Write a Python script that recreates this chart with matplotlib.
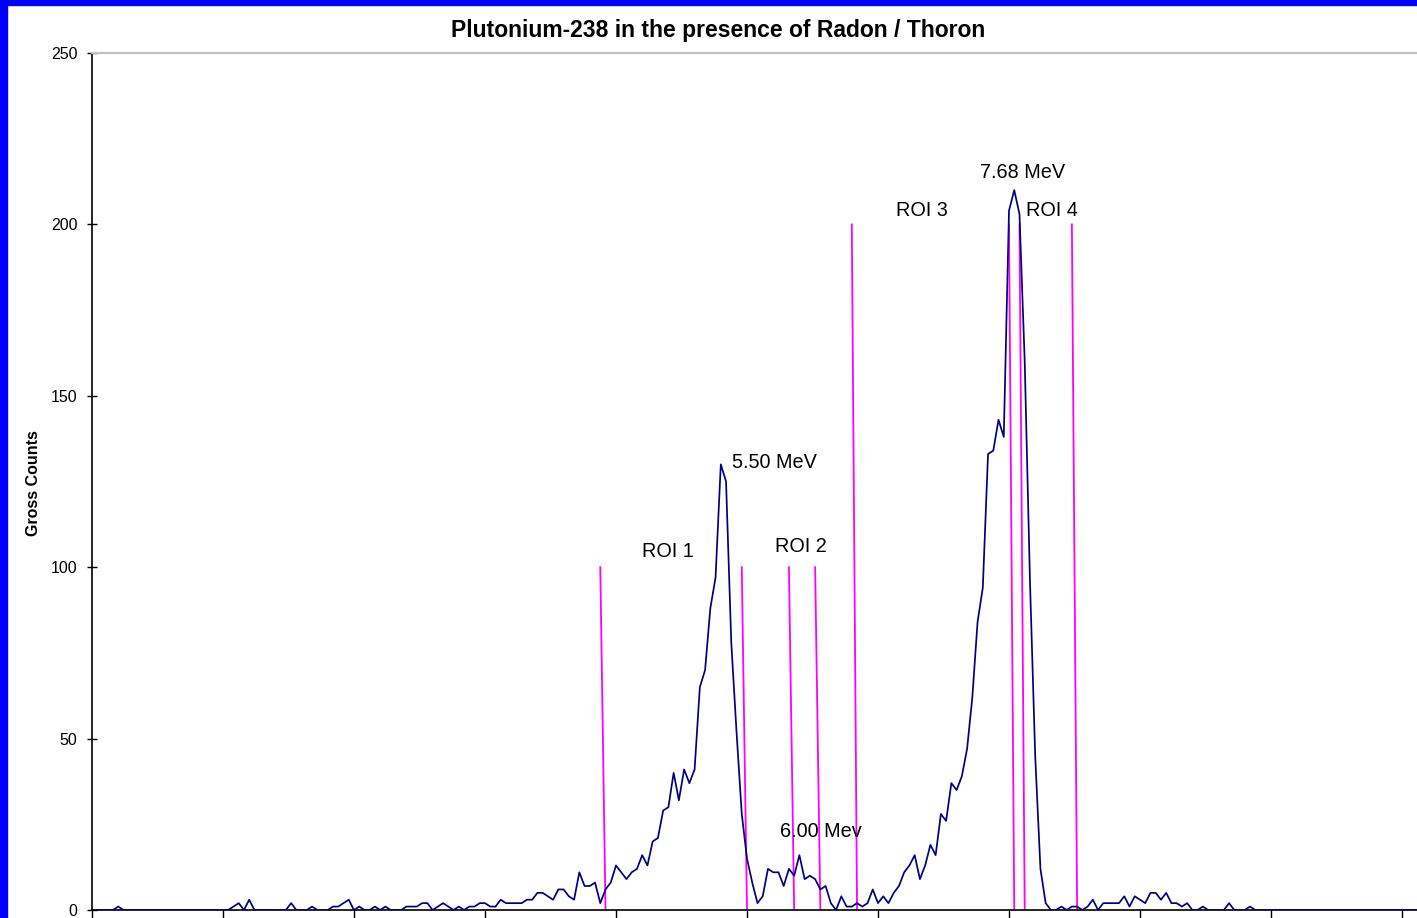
import matplotlib
matplotlib.use("Agg")
import matplotlib.pyplot as plt
from matplotlib.patches import Rectangle
from matplotlib import font_manager

# gross counts per channel
counts = [
    0, 0, 0, 0, 0, 1, 0, 0, 0, 0,            # 0-9
    0, 0, 0, 0, 0, 0, 0, 0, 0, 0,            # 10-19
    0, 0, 0, 0, 0, 0, 0, 1, 2, 0,            # 20-29
    3, 0, 0, 0, 0, 0, 0, 0, 2, 0,            # 30-39
    0, 0, 1, 0, 0, 0, 1, 1, 2, 3,            # 40-49
    0, 1, 0, 0, 1, 0, 1, 0, 0, 0,            # 50-59
    1, 1, 1, 2, 2, 0, 1, 2, 1, 0,            # 60-69
    1, 0, 1, 1, 2, 2, 1, 1, 3, 2,            # 70-79
    2, 2, 2, 3, 3, 5, 5, 4, 3, 6,            # 80-89
    6, 4, 3, 11, 7, 7, 8, 2, 6, 8,           # 90-99
    13, 11, 9, 11, 12, 16, 13, 20, 21, 29,   # 100-109
    30, 40, 32, 41, 37, 41, 65, 70, 88, 97,  # 110-119
    130, 125, 78, 52, 28, 15, 8, 2, 4, 12,   # 120-129
    11, 11, 7, 12, 10, 16, 9, 10, 9, 6,      # 130-139
    7, 2, 0, 4, 1, 1, 2, 1, 2, 6,            # 140-149
    2, 4, 2, 5, 7, 11, 13, 16, 9, 13,        # 150-159
    19, 16, 28, 26, 37, 35, 39, 47, 62, 84,  # 160-169
    94, 133, 134, 143, 138, 204, 210, 203, 160, 96,  # 170-179
    45, 12, 2, 0, 0, 1, 0, 1, 1, 0,          # 180-189
    1, 3, 0, 2, 2, 2, 2, 4, 1, 4,            # 190-199
    3, 2, 5, 5, 3, 5, 2, 2, 1, 2,            # 200-209
    0, 0, 1, 0, 0, 0, 0, 2, 0, 0,            # 210-219
    0, 1, 0, 0, 0, 0, 0, 0, 0, 0,            # 220-229
    0, 0, 0, 0, 0, 0, 0, 0, 0, 0,            # 230-239
    0, 0, 0, 0, 0, 0, 0, 0, 0, 0,            # 240-249
    0, 0, 0, 0,                              # 250-253
]
channels = list(range(len(counts)))

# ROI marker lines: channel where each starts and its height
roi_channels = [97, 124, 133, 138, 145, 175, 177, 187]
roi_heights = [100, 100, 100, 100, 200, 200, 200, 200]

# annotations: text, channel, counts
label_texts = ["ROI 1", "5.50 MeV", "ROI 2", "6.00 Mev", "ROI 3", "7.68 MeV", "ROI 4"]
label_x = [110, 122.1, 135.3, 139.1, 158.3, 177.6, 183.1]
label_y = [104.5, 130.4, 106, 23, 204.2, 215, 204]
label_ha = ["center", "left", "center", "center", "center", "center", "center"]

y_ticks = [0, 50, 100, 150, 200, 250]
x_ticks = list(range(0, 251, 25))

installed = {f.name for f in font_manager.fontManager.ttflist}
narrow = "Liberation Sans Narrow" if "Liberation Sans Narrow" in installed else "Liberation Sans"

plt.rcParams['font.family'] = ['Liberation Sans', 'DejaVu Sans']

W, H = 1417, 918
fig = plt.figure(figsize=(W / 100, H / 100), dpi=100)
fig.patch.set_facecolor('white')

ax = fig.add_axes([92 / W, 8 / H, (W - 92) / W, 857 / H])
ax.plot(channels, counts, color='#000080', lw=1.25, zorder=3)

for ch, h in zip(roi_channels, roi_heights):
    ax.plot([ch, ch + 1], [h, 0], color='#ff00ff', lw=1.3, zorder=2)

for t, x, y, ha in zip(label_texts, label_x, label_y, label_ha):
    ax.text(x, y, t, ha=ha, va='center', fontsize=14.3, color='black')

ax.set_xlim(0, (W - 92) / 5.24)
ax.set_ylim(0, 250)
ax.set_yticks(y_ticks)
ax.set_xticks(x_ticks)
ax.set_xticklabels([])
ax.tick_params(axis='y', direction='inout', length=7, width=1, pad=7, labelsize=11.5)
ax.tick_params(axis='x', direction='out', length=7, width=1)

ax.spines['right'].set_visible(False)
ax.spines['top'].set_color('#c0c0c0')
ax.spines['top'].set_linewidth(1.6)
ax.spines['left'].set_linewidth(1.2)
ax.spines['bottom'].set_linewidth(1.2)

fig.text(718 / W, 1 - 31 / H, "Plutonium-238 in the presence of Radon / Thoron",
         ha='center', va='center', fontsize=16.5, fontweight='bold')
fig.text(34 / W, 1 - 483 / H, "Gross Counts", rotation=90, ha='center', va='center',
         fontsize=11.5, fontweight='bold', family=[narrow, 'DejaVu Sans'])

# blue frame on the left and top edges
fig.patches.append(Rectangle((0, 0), 7 / W, 1, transform=fig.transFigure,
                             color='#0000ff', zorder=10))
fig.patches.append(Rectangle((0, 1 - 5 / H), 1, 5 / H, transform=fig.transFigure,
                             color='#0000ff', zorder=10))

fig.savefig("out.png", dpi=100)
